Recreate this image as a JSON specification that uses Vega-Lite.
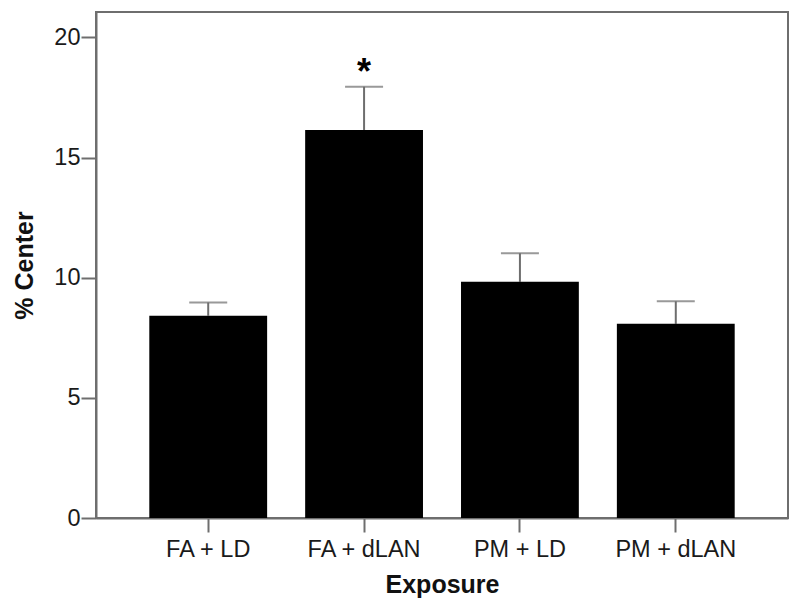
{
  "$schema": "https://vega.github.io/schema/vega-lite/v6.json",
  "autosize": "none",
  "width": 692,
  "height": 506,
  "padding": {"left": 96, "top": 12, "right": 12, "bottom": 98},
  "background": "white",
  "config": {
    "font": "Liberation Sans",
    "view": {"stroke": "#6e6e6e", "strokeWidth": 2},
    "axis": {
      "grid": false,
      "domainColor": "#6e6e6e",
      "domainWidth": 2,
      "tickColor": "#6e6e6e",
      "tickWidth": 2,
      "labelFont": "Liberation Sans",
      "labelFontSize": 23.5,
      "labelColor": "#1a1a1a",
      "titleFont": "Liberation Sans",
      "titleFontSize": 25,
      "titleFontWeight": "bold",
      "titleColor": "#111"
    }
  },
  "data": {
    "values": [
      {"group": "FA + LD", "mean": 8.42, "upper": 8.97, "sig": ""},
      {"group": "FA + dLAN", "mean": 16.15, "upper": 17.95, "sig": "*"},
      {"group": "PM + LD", "mean": 9.83, "upper": 11.02, "sig": ""},
      {"group": "PM + dLAN", "mean": 8.08, "upper": 9.02, "sig": ""}
    ]
  },
  "encoding": {
    "x": {
      "field": "group",
      "type": "nominal",
      "sort": null,
      "scale": {"paddingInner": 0.244, "paddingOuter": 0.342},
      "axis": {"title": "Exposure", "labelAngle": 0, "tickSize": 14, "labelPadding": 5, "titlePadding": 12, "domain": true}
    }
  },
  "layer": [
    {
      "mark": {"type": "rule", "color": "#6e6e6e", "strokeWidth": 2},
      "encoding": {
        "y": {"field": "mean", "type": "quantitative"},
        "y2": {"field": "upper"}
      }
    },
    {
      "mark": {"type": "tick", "color": "#6e6e6e", "size": 38, "thickness": 2},
      "encoding": {
        "y": {"field": "upper", "type": "quantitative"}
      }
    },
    {
      "mark": {"type": "bar", "color": "black"},
      "encoding": {
        "y": {
          "field": "mean",
          "type": "quantitative",
          "scale": {"domain": [0, 21.06], "nice": false},
          "axis": {"title": "% Center", "values": [0, 5, 10, 15, 20], "tickSize": 15, "labelPadding": 1, "titlePadding": 16}
        }
      }
    },
    {
      "mark": {"type": "text", "fontSize": 36, "fontWeight": "bold", "baseline": "middle", "dy": -14, "color": "black"},
      "encoding": {
        "y": {"field": "upper", "type": "quantitative"},
        "text": {"field": "sig"}
      },
      "transform": [{"filter": "datum.sig != ''"}]
    }
  ]
}
